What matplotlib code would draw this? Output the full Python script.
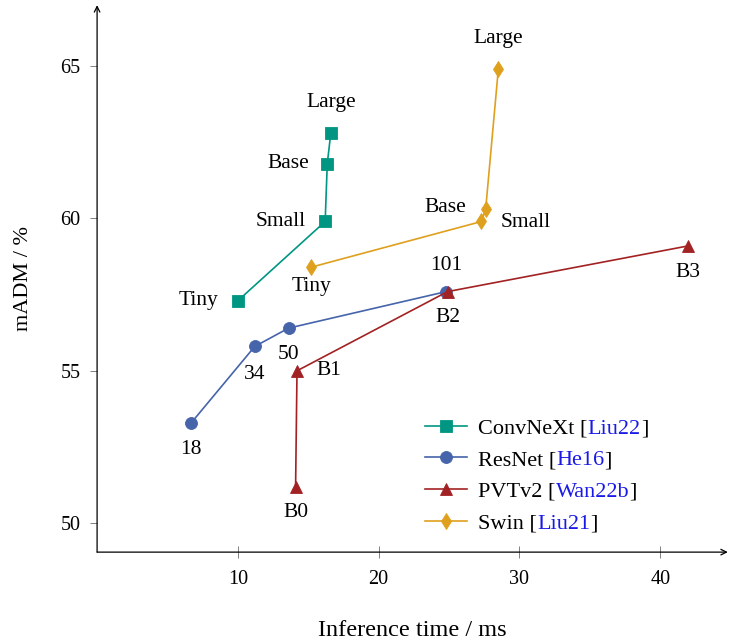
import matplotlib.pyplot as plt

plt.rcParams['font.family'] = ['Liberation Serif', 'DejaVu Serif']

# data
convnext_x = [10.0, 16.2, 16.35, 16.6]
convnext_y = [57.3, 59.9, 61.8, 62.8]
convnext_labels = ['Tiny', 'Small', 'Base', 'Large']

resnet_x = [6.7, 11.2, 13.6, 24.8]
resnet_y = [53.3, 55.8, 56.4, 57.6]
resnet_labels = ['18', '34', '50', '101']

pvt_x = [14.1, 14.2, 24.9, 42.0]
pvt_y = [51.2, 55.0, 57.6, 59.1]
pvt_labels = ['B0', 'B1', 'B2', 'B3']

swin_x = [15.2, 27.3, 27.6, 28.5]
swin_y = [58.4, 59.9, 60.3, 64.9]
swin_labels = ['Tiny', 'Small', 'Base', 'Large']

legend_names = ['ConvNeXt', 'ResNet', 'PVTv2', 'Swin']
legend_cites = ['Liu22', 'He16', 'Wan22b', 'Liu21']

xticks = [10, 20, 30, 40]
yticks = [50, 55, 60, 65]

colors = ['#009682', '#4664AA', '#A22223', '#DFA01E']
markers = ['s', 'o', '^', 'd']
msizes = [9, 8.6, 8, 8]

# label placement: (dx, dy) in points, ha, va
convnext_pos = [(-14, 0, 'right', 'center'), (-14, 0, 'right', 'center'),
                (-13, 0, 'right', 'center'), (0, 22, 'center', 'center')]
resnet_pos = [(0, -19, 'center', 'center'), (0, -20, 'center', 'center'),
              (0, -19, 'center', 'center'), (0, 19, 'center', 'center')]
pvt_pos = [(0, -19, 'center', 'center'), (14, 0, 'left', 'center'),
           (0, -19, 'center', 'center'), (0, -19, 'center', 'center')]
swin_pos = [(0, -14, 'center', 'center'), (14, -1, 'left', 'center'),
            (-14, 1, 'right', 'center'), (0, 22, 'center', 'center')]

fig = plt.figure(figsize=(7.3, 6.42), dpi=100)
ax = fig.add_axes([0.133, 0.140, 0.864, 0.852])

series = [
    (convnext_x, convnext_y, convnext_labels, convnext_pos),
    (resnet_x, resnet_y, resnet_labels, resnet_pos),
    (pvt_x, pvt_y, pvt_labels, pvt_pos),
    (swin_x, swin_y, swin_labels, swin_pos),
]

handles = []
for i, (xs, ys, labs, pos) in enumerate(series):
    h, = ax.plot(xs, ys, color=colors[i], marker=markers[i], markersize=msizes[i],
                 linewidth=1.2, markeredgewidth=0.6, markeredgecolor=colors[i],
                 label=legend_names[i] + ' [', zorder=3)
    handles.append(h)
    for x, y, lab, (dx, dy, ha, va) in zip(xs, ys, labs, pos):
        ax.annotate(lab, (x, y), xytext=(dx, dy), textcoords='offset points',
                    ha=ha, va=va, fontsize=15.5)

ax.set_xlim(0, 44.8)
ax.set_ylim(49.05, 67.0)
ax.set_xticks(xticks)
ax.set_yticks(yticks)
ax.tick_params(axis='x', direction='inout', length=8, color='#808080', width=0.7,
               labelsize=14.5, pad=9)
ax.tick_params(axis='y', direction='out', length=5, color='#808080', width=0.7,
               labelsize=14.5, pad=7)

for s in ['top', 'right', 'left', 'bottom']:
    ax.spines[s].set_visible(False)
ax.annotate('', xy=(1.0, 0), xytext=(0, 0), xycoords='axes fraction',
            arrowprops=dict(arrowstyle='->', color='black', lw=0.9,
                            shrinkA=0, shrinkB=0))
ax.annotate('', xy=(0, 1.0), xytext=(0, 0), xycoords='axes fraction',
            arrowprops=dict(arrowstyle='->', color='black', lw=0.9,
                            shrinkA=0, shrinkB=0))

ax.set_xlabel('Inference time / ms', fontsize=17.5, labelpad=22)
ax.set_ylabel('mADM / %', fontsize=16, labelpad=20)

leg = ax.legend(handles=handles, loc='upper left',
                bbox_to_anchor=(425 / 730, 1 - 418 / 642),
                bbox_transform=fig.transFigure, frameon=False, fontsize=16,
                handlelength=1.9, handletextpad=0.5, labelspacing=0.5,
                borderpad=0, borderaxespad=0)

# add coloured citation keys after each legend label
fig.canvas.draw()
renderer = fig.canvas.get_renderer()
for t, cite in zip(leg.get_texts(), legend_cites):
    bb = t.get_window_extent(renderer)
    c = fig.text(bb.x1, bb.y0, cite, color='#1a1ae6', fontsize=16,
                 ha='left', va='bottom', transform=None)
    bb2 = c.get_window_extent(renderer)
    fig.text(bb2.x1, bb.y0, ']', color='black', fontsize=16,
             ha='left', va='bottom', transform=None)

fig.savefig('out.png', dpi=100)
